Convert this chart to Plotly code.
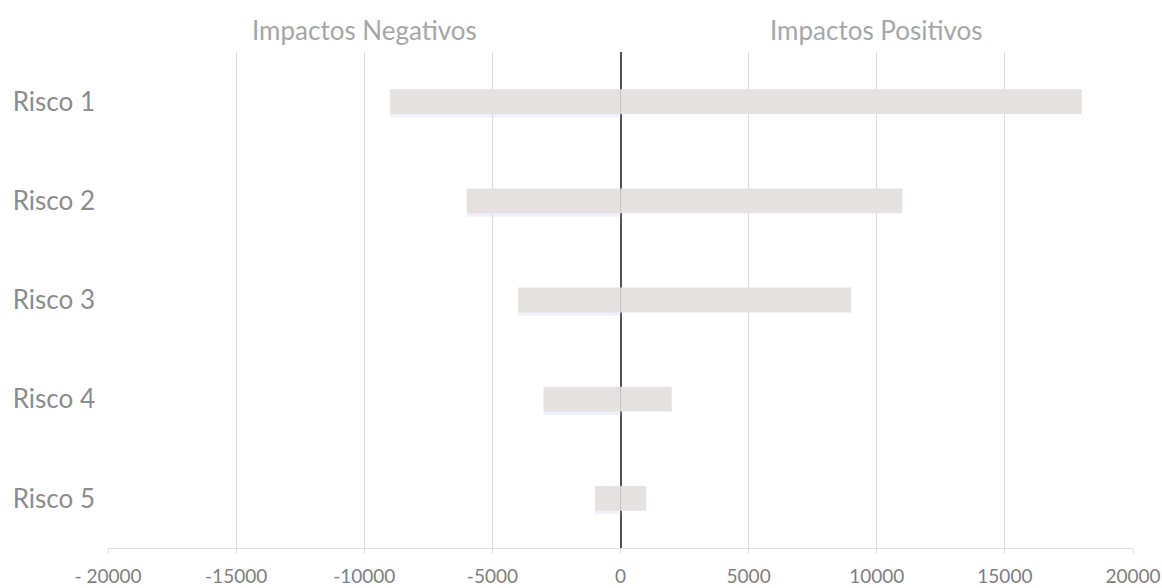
import plotly.graph_objects as go

riscos = ["Risco 1", "Risco 2", "Risco 3", "Risco 4", "Risco 5"]
negativos = [-9000, -6000, -4000, -3000, -1000]
positivos = [18000, 11000, 9000, 2000, 1000]
tick_vals = [-20000, -15000, -10000, -5000, 0, 5000, 10000, 15000, 20000]
tick_text = ["- 20000", "-15000", "-10000", "-5000", "0", "5000", "10000", "15000", "20000"]

bar_color = "#e6e1e1"
font_family = "Lato, 'Open Sans', sans-serif"

fig = go.Figure()

# soft shadow just below the negative bars
fig.add_trace(go.Bar(
    y=riscos, x=negativos, orientation="h", width=0.25, offset=-0.16,
    marker=dict(color="rgba(215,215,245,0.35)", line=dict(width=0)),
    hoverinfo="skip", showlegend=False,
))
fig.add_trace(go.Bar(
    y=riscos, x=negativos, orientation="h", width=0.25,
    marker=dict(color=bar_color, line=dict(width=0)), showlegend=False,
    name="Impactos Negativos",
))
fig.add_trace(go.Bar(
    y=riscos, x=positivos, orientation="h", width=0.25,
    marker=dict(color=bar_color, line=dict(width=0)), showlegend=False,
    name="Impactos Positivos",
))

fig.update_layout(
    width=1162, height=588,
    margin=dict(l=108, r=29, t=52, b=40),
    paper_bgcolor="white", plot_bgcolor="white",
    barmode="overlay",
    font=dict(family=font_family, color="#8c8c8c"),
    xaxis=dict(
        range=[-20000, 20000], tickvals=tick_vals, ticktext=tick_text,
        showgrid=True, gridcolor="#dcdcdc", gridwidth=1,
        zeroline=True, zerolinecolor="#555555", zerolinewidth=1.5,
        showline=True, linecolor="#e0e0e0", linewidth=1,
        ticks="outside", ticklen=5, tickcolor="#e0e0e0",
        tickfont=dict(size=19, color="#7f7f7f"), ticklabelstandoff=6,
        automargin=False,
        fixedrange=True,
    ),
    yaxis=dict(
        categoryorder="array", categoryarray=riscos[::-1],
        showgrid=False, zeroline=False, showline=False,
        tickfont=dict(size=26, color="#8c8c8c"), ticklabelstandoff=12,
        automargin=False,
        fixedrange=True,
    ),
    annotations=[
        dict(x=-10000, y=1.0, xref="x", yref="paper", yshift=40,
             text="Impactos Negativos", showarrow=False,
             font=dict(size=26, color="#a6a6a6", family=font_family)),
        dict(x=10000, y=1.0, xref="x", yref="paper", yshift=40,
             text="Impactos Positivos", showarrow=False,
             font=dict(size=26, color="#a6a6a6", family=font_family)),
    ],
)

fig.write_html("out.html")
